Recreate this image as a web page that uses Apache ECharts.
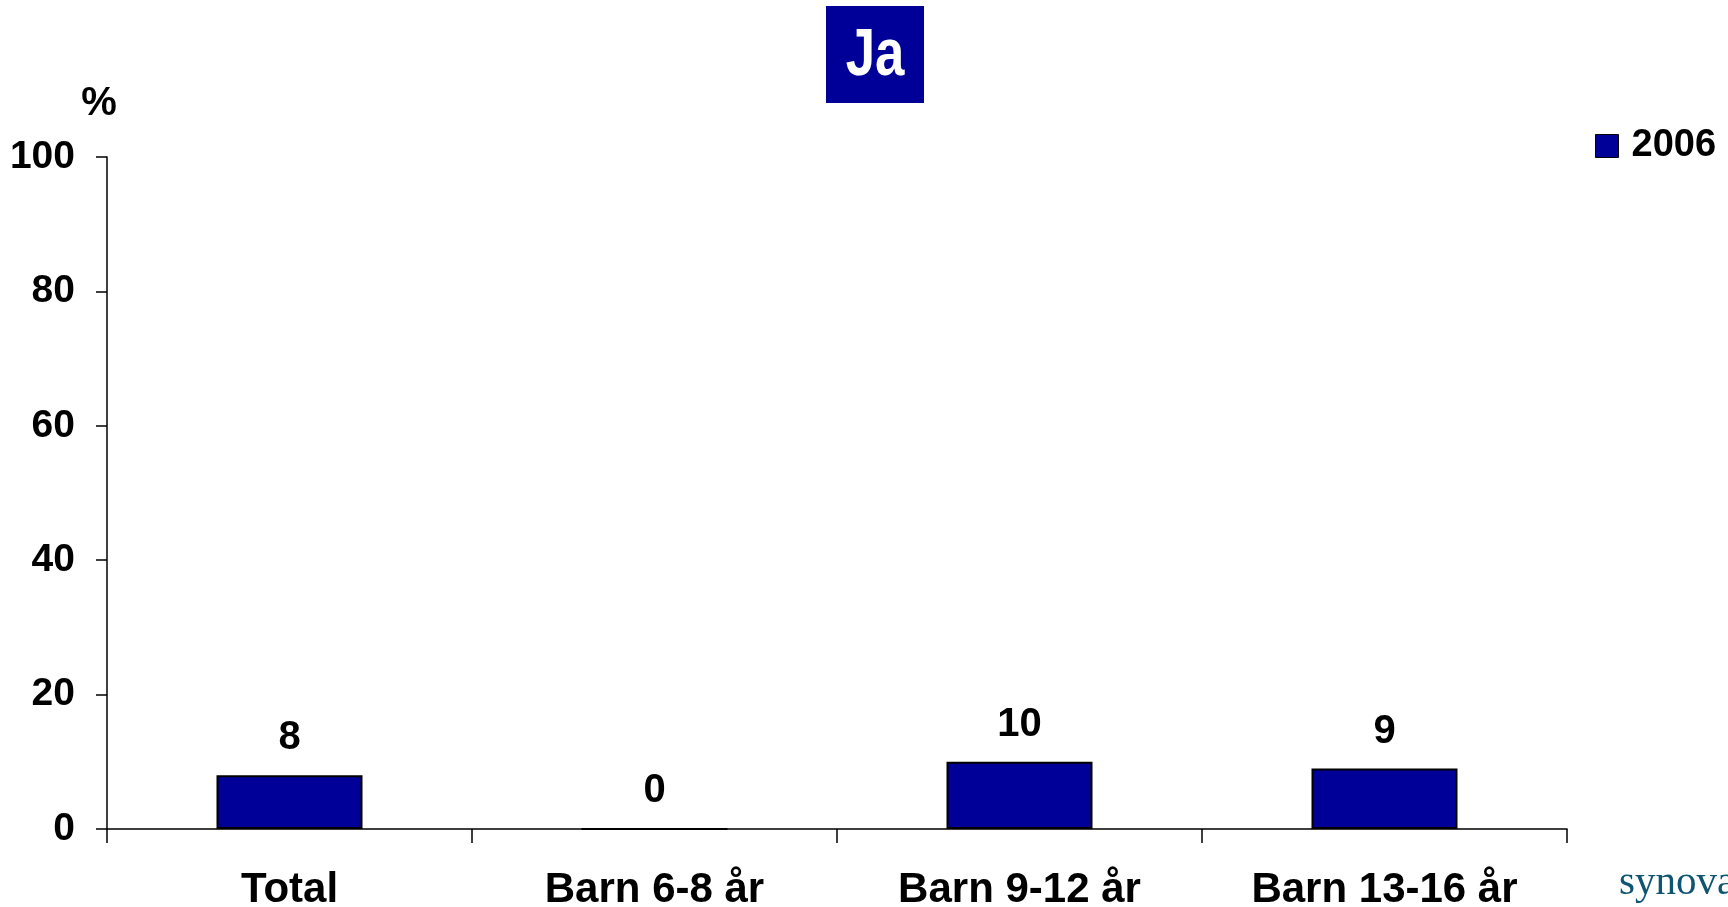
<!DOCTYPE html>
<html><head><meta charset="utf-8">
<script src="https://cdn.jsdelivr.net/npm/echarts@6/dist/echarts.min.js"></script>
<style>html,body{margin:0;padding:0;background:#fff}#c{width:1728px;height:907px}</style>
</head><body><div id="c"></div>
<script>
const categories = ['Total', 'Barn 6-8 år', 'Barn 9-12 år', 'Barn 13-16 år'];
const values2006 = [8, 0, 10, 9];
const seriesName = '2006';
const titleText = 'Ja';
const yTicks = [0, 20, 40, 60, 80, 100];

const F = 'Liberation Sans, Arial, sans-serif';
const chart = echarts.init(document.getElementById('c'));
chart.setOption({
  animation: false,
  backgroundColor: '#fff',
  grid: { left: 107, right: 161, top: 157, bottom: 78, containLabel: false, outerBoundsMode: 'none' },
  legend: {
    data: [seriesName], left: 1590, top: 122, icon: 'rect',
    itemWidth: 23, itemHeight: 23,
    itemStyle: { borderColor: '#000', borderWidth: 1 },
    textStyle: { fontFamily: F, fontWeight: 'bold', fontSize: 38, color: '#000', padding: [0, 0, 0, 8] }
  },
  xAxis: {
    type: 'category', data: categories,
    axisLine: { lineStyle: { color: '#000', width: 1.5 } },
    axisTick: { show: true, interval: 0, inside: false, length: 14, lineStyle: { color: '#000', width: 1.5 } },
    axisLabel: { interval: 0, fontFamily: F, fontWeight: 'bold', fontSize: 42, color: '#000', margin: 40 }
  },
  yAxis: {
    type: 'value', min: yTicks[0], max: yTicks[yTicks.length - 1], interval: 20,
    splitLine: { show: false },
    axisLine: { show: true, lineStyle: { color: '#000', width: 1.5 } },
    axisTick: { show: true, length: 11, lineStyle: { color: '#000', width: 1.5 } },
    axisLabel: { fontFamily: F, fontWeight: 'bold', fontSize: 39, color: '#000', margin: 32, padding: [4, 0, 0, 0] }
  },
  series: [{
    name: seriesName, type: 'bar', data: values2006, barWidth: '40%',
    itemStyle: { color: '#000099', borderColor: '#000', borderWidth: 2 },
    label: { show: true, position: 'top', distance: 17, fontFamily: F, fontWeight: 'bold', fontSize: 40, color: '#000' }
  }],
  graphic: [
    { type: 'rect', shape: { x: 826, y: 6, width: 98, height: 97 }, style: { fill: '#000099' } },
    { type: 'text', x: 875, y: 57, scaleX: 0.8, style: { text: titleText, fill: '#fff', font: 'bold 66px ' + F, textAlign: 'center', textVerticalAlign: 'middle' } },
    { type: 'text', x: 99, y: 104, style: { text: '%', fill: '#000', font: 'bold 40px ' + F, textAlign: 'center', textVerticalAlign: 'middle' } },
    { type: 'text', x: 1619, y: 883, style: { text: 'synovate', fill: '#0f5470', font: '41px "Liberation Serif", "DejaVu Serif", serif', textAlign: 'left', textVerticalAlign: 'middle' } }
  ]
});
</script></body></html>
